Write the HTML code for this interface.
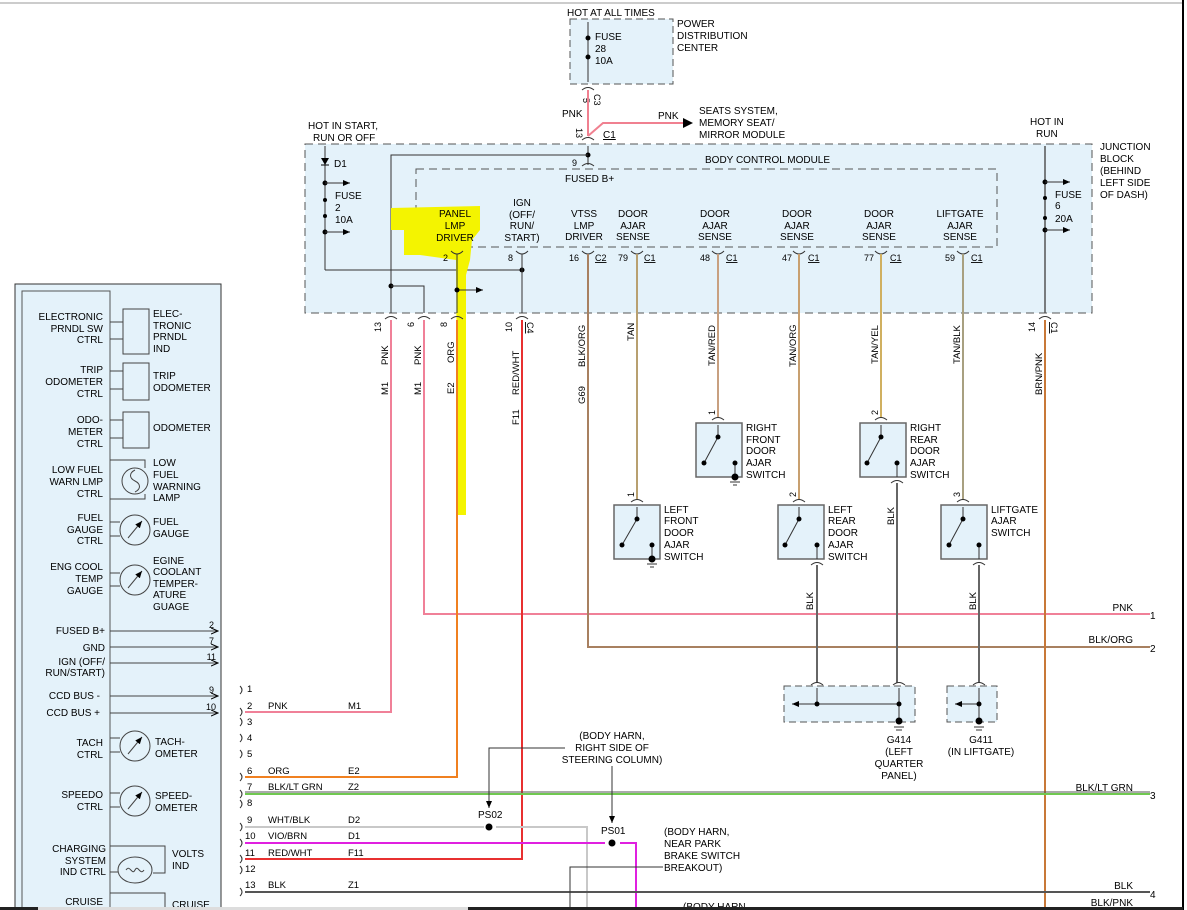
<!DOCTYPE html>
<html><head><meta charset="utf-8"><style>
html,body{margin:0;padding:0;background:#fff;}
svg{display:block;font-family:"Liberation Sans",sans-serif;font-size:10px;}
</style></head><body>
<svg width="1187" height="910" viewBox="0 0 1187 910" xmlns="http://www.w3.org/2000/svg">
<defs>
<marker id="ar" markerWidth="8" markerHeight="8" refX="7" refY="4" orient="auto" markerUnits="userSpaceOnUse"><path d="M0,1 L7,4 L0,7" fill="none" stroke="#000" stroke-width="1"/></marker>
<marker id="af" markerWidth="8" markerHeight="8" refX="7" refY="4" orient="auto" markerUnits="userSpaceOnUse"><path d="M0,1 L7,4 L0,7 Z" fill="#000"/></marker>
</defs>
<rect width="1187" height="910" fill="#fff"/>
<line x1="0" y1="3" x2="1182" y2="3" stroke="#ccc" stroke-width="2"/>
<line x1="1183" y1="0" x2="1183" y2="910" stroke="#000" stroke-width="2"/>

<!-- Power distribution -->
<rect x="570" y="19" width="103" height="65" fill="#e4f2fa" stroke="#555" stroke-dasharray="7,4"/>
<text x="567" y="16">HOT AT ALL TIMES</text>
<line x1="588" y1="22" x2="588" y2="82" stroke="#333"/>
<circle cx="588" cy="38" r="2.5"/><circle cx="588" cy="57" r="2.5"/>
<text x="595" y="40">FUSE</text><text x="595" y="52">28</text><text x="595" y="64">10A</text>
<text x="677" y="27">POWER</text><text x="677" y="39">DISTRIBUTION</text><text x="677" y="51">CENTER</text>
<path d="M582,90 q6,-5 12,0" fill="none" stroke="#333"/>
<text transform="translate(583,98) rotate(90)" font-size="9">5</text>
<text transform="translate(594,94) rotate(90)" font-size="9">C3</text>
<line x1="588" y1="90" x2="588" y2="136" stroke="#f08090" stroke-width="2"/>
<polyline points="588,136 603,123 683,123" fill="none" stroke="#f08090" stroke-width="2"/>
<path d="M683,118 L693,123 L683,128 Z" fill="#000"/>
<text x="562" y="117">PNK</text><text x="658" y="119">PNK</text>
<text x="699" y="114">SEATS SYSTEM,</text><text x="699" y="126">MEMORY SEAT/</text><text x="699" y="138">MIRROR MODULE</text>
<text transform="translate(576,128) rotate(90)" font-size="9">13</text>
<text x="603" y="138" text-decoration="underline">C1</text>
<path d="M582,140 q6,-5 12,0" fill="none" stroke="#333"/>

<!-- Junction block -->
<rect x="305" y="144" width="787" height="169" fill="#e4f2fa" stroke="#555" stroke-dasharray="8,5"/>
<rect x="416" y="169" width="581" height="78" fill="#e4f2fa" stroke="#555" stroke-dasharray="8,5"/>
<text x="705" y="163">BODY CONTROL MODULE</text>
<text x="565" y="182">FUSED B+</text>
<text x="572" y="166" font-size="9">9</text>
<path d="M582,166 q6,-5 12,0" fill="none" stroke="#333"/>
<line x1="588" y1="146" x2="588" y2="165" stroke="#333"/>
<circle cx="588" cy="155" r="2.5"/>
<polyline points="588,155 391,155 391,313" fill="none" stroke="#333"/>
<circle cx="391" cy="286" r="2.5"/>
<polyline points="391,286 424,286 424,313" fill="none" stroke="#333"/>
<text x="308" y="129">HOT IN START,</text><text x="313" y="141">RUN OR OFF</text>
<line x1="325" y1="146" x2="325" y2="270" stroke="#333"/>
<path d="M321,158 L329,158 L325,165 Z" fill="#000"/><line x1="321" y1="165" x2="329" y2="165" stroke="#000"/>
<text x="334" y="167">D1</text>
<circle cx="325" cy="183" r="2.5"/><line x1="325" y1="183" x2="350" y2="183" stroke="#333" marker-end="url(#af)"/>
<circle cx="325" cy="200" r="2"/><circle cx="325" cy="216" r="2"/>
<circle cx="325" cy="232" r="2.5"/><line x1="325" y1="232" x2="350" y2="232" stroke="#333" marker-end="url(#af)"/>
<text x="335" y="199">FUSE</text><text x="335" y="211">2</text><text x="335" y="223">10A</text>
<polyline points="325,270 522,270" fill="none" stroke="#333"/>
<circle cx="522" cy="270" r="2.5"/>

<polygon points="391,208 480,206 480,230 472,240 470,260 466,275 466,515 458,515 456,260 420,255 404,255 404,230 391,230" fill="#f4f400"/>

<g text-anchor="middle">
<text x="455" y="217">PANEL</text><text x="455" y="229">LMP</text><text x="455" y="241">DRIVER</text>
<text x="522" y="206">IGN</text><text x="522" y="218">(OFF/</text><text x="522" y="229">RUN/</text><text x="522" y="241">START)</text>
<text x="584" y="217">VTSS</text><text x="584" y="229">LMP</text><text x="584" y="240">DRIVER</text>
<text x="633" y="217">DOOR</text><text x="633" y="229">AJAR</text><text x="633" y="240">SENSE</text>
<text x="715" y="217">DOOR</text><text x="715" y="229">AJAR</text><text x="715" y="240">SENSE</text>
<text x="797" y="217">DOOR</text><text x="797" y="229">AJAR</text><text x="797" y="240">SENSE</text>
<text x="879" y="217">DOOR</text><text x="879" y="229">AJAR</text><text x="879" y="240">SENSE</text>
<text x="960" y="217">LIFTGATE</text><text x="960" y="229">AJAR</text><text x="960" y="240">SENSE</text>
</g>
<g font-size="9">
<text x="443" y="261">2</text><text x="508" y="261">8</text>
<text x="569" y="261">16</text><text x="595" y="261" text-decoration="underline">C2</text>
<text x="618" y="261">79</text><text x="644" y="261" text-decoration="underline">C1</text>
<text x="700" y="261">48</text><text x="726" y="261" text-decoration="underline">C1</text>
<text x="782" y="261">47</text><text x="808" y="261" text-decoration="underline">C1</text>
<text x="864" y="261">77</text><text x="890" y="261" text-decoration="underline">C1</text>
<text x="945" y="261">59</text><text x="971" y="261" text-decoration="underline">C1</text>
</g>
<g fill="none" stroke="#333">
<path d="M451,251 q6,6 12,0"/><path d="M516,251 q6,6 12,0"/><path d="M582,251 q6,6 12,0"/><path d="M631,251 q6,6 12,0"/><path d="M712,251 q6,6 12,0"/><path d="M793,251 q6,6 12,0"/><path d="M875,251 q6,6 12,0"/><path d="M957,251 q6,6 12,0"/>
<line x1="457" y1="254" x2="457" y2="313"/><line x1="522" y1="254" x2="522" y2="313"/>
<line x1="457" y1="290" x2="483" y2="290" marker-end="url(#af)"/>
</g>
<circle cx="457" cy="290" r="2.5"/>
<!-- hot in run -->
<text x="1030" y="125">HOT IN</text><text x="1036" y="137">RUN</text>
<line x1="1045" y1="146" x2="1045" y2="313" stroke="#555" stroke-width="1.5"/>
<circle cx="1045" cy="182" r="2.5"/><line x1="1045" y1="182" x2="1070" y2="182" stroke="#333" marker-end="url(#af)"/>
<circle cx="1045" cy="198" r="2"/><circle cx="1045" cy="218" r="2"/>
<circle cx="1045" cy="230" r="2.5"/><line x1="1045" y1="230" x2="1070" y2="230" stroke="#333" marker-end="url(#af)"/>
<text x="1055" y="198">FUSE</text><text x="1055" y="209">6</text><text x="1055" y="222">20A</text>
<text x="1100" y="150">JUNCTION</text><text x="1100" y="162">BLOCK</text><text x="1100" y="174">(BEHIND</text><text x="1100" y="186">LEFT SIDE</text><text x="1100" y="198">OF DASH)</text>

<!-- connectors below JB -->
<g fill="none" stroke="#333">
<path d="M385,319 q6,-5 12,0"/><path d="M418,319 q6,-5 12,0"/><path d="M451,319 q6,-5 12,0"/><path d="M516,319 q6,-5 12,0"/><path d="M1039,319 q6,-5 12,0"/>
</g>
<g font-size="9">
<text transform="translate(381,322) rotate(-90)" text-anchor="end">13</text>
<text transform="translate(414,322) rotate(-90)" text-anchor="end">6</text>
<text transform="translate(447,322) rotate(-90)" text-anchor="end">8</text>
<text transform="translate(512,322) rotate(-90)" text-anchor="end">10</text>
<text transform="translate(527,322) rotate(90)" text-decoration="underline">C4</text>
<text transform="translate(1035,322) rotate(-90)" text-anchor="end">14</text>
<text transform="translate(1051,322) rotate(90)" text-decoration="underline">C1</text>
</g>

<!-- wires -->
<g fill="none" stroke-width="2">
<polyline points="391,320 391,712 245,712" stroke="#f08098"/>
<polyline points="424,320 424,614 1150,614" stroke="#f08098"/>
<polyline points="457,320 457,777 245,777" stroke="#f08020"/>
<polyline points="522,320 522,859 245,859" stroke="#e83030"/>
<polyline points="588,254 588,647 1150,647" stroke="#a88060"/>
<line x1="637" y1="254" x2="637" y2="500" stroke="#b8a070"/>
<line x1="718" y1="254" x2="718" y2="418" stroke="#c8a080"/>
<line x1="799" y1="254" x2="799" y2="500" stroke="#c8a070"/>
<line x1="881" y1="254" x2="881" y2="418" stroke="#d0b060"/>
<line x1="963" y1="254" x2="963" y2="500" stroke="#a8a080"/>
<line x1="1045" y1="320" x2="1045" y2="910" stroke="#c87838"/>
<line x1="245" y1="794" x2="1150" y2="794" stroke="#70c850"/>
<line x1="245" y1="792" x2="1150" y2="792" stroke="#555" stroke-width="1"/>
<polyline points="245,827 484,827" stroke="#c8c8c8"/>
<polyline points="496,827 587,827 587,910" stroke="#c8c8c8"/>
<polyline points="245,843 605,843" stroke="#e020e0"/>
<polyline points="620,843 636,843 636,910" stroke="#e020e0"/>
<line x1="245" y1="892" x2="1150" y2="892" stroke="#555"/>
<line x1="817" y1="565" x2="817" y2="683" stroke="#666"/>
<line x1="897" y1="483" x2="897" y2="683" stroke="#666"/>
<line x1="979" y1="565" x2="979" y2="683" stroke="#666"/>
</g>
<!-- wire labels vertical -->
<g font-size="9.5">
<text transform="translate(388,365) rotate(-90)">PNK</text><text transform="translate(388,395) rotate(-90)">M1</text>
<text transform="translate(421,365) rotate(-90)">PNK</text><text transform="translate(421,395) rotate(-90)">M1</text>
<text transform="translate(454,363) rotate(-90)">ORG</text><text transform="translate(454,394) rotate(-90)">E2</text>
<text transform="translate(519,395) rotate(-90)">RED/WHT</text><text transform="translate(519,425) rotate(-90)">F11</text>
<text transform="translate(585,367) rotate(-90)">BLK/ORG</text><text transform="translate(585,404) rotate(-90)">G69</text>
<text transform="translate(634,341) rotate(-90)">TAN</text>
<text transform="translate(715,366) rotate(-90)">TAN/RED</text>
<text transform="translate(796,367) rotate(-90)">TAN/ORG</text>
<text transform="translate(878,364) rotate(-90)">TAN/YEL</text>
<text transform="translate(960,364) rotate(-90)">TAN/BLK</text>
<text transform="translate(1042,395) rotate(-90)">BRN/PNK</text>
<text transform="translate(894,525) rotate(-90)">BLK</text>
<text transform="translate(813,610) rotate(-90)">BLK</text>
<text transform="translate(976,610) rotate(-90)">BLK</text>
</g>

<!-- switches -->
<g id="sw">
<rect x="696" y="423" width="46" height="54" fill="#e4f2fa" stroke="#666" stroke-width="1.5"/>
<rect x="614" y="505" width="46" height="54" fill="#e4f2fa" stroke="#666" stroke-width="1.5"/>
<rect x="778" y="505" width="46" height="54" fill="#e4f2fa" stroke="#666" stroke-width="1.5"/>
<rect x="860" y="423" width="46" height="54" fill="#e4f2fa" stroke="#666" stroke-width="1.5"/>
<rect x="941" y="505" width="46" height="54" fill="#e4f2fa" stroke="#666" stroke-width="1.5"/>
</g>
<g fill="none" stroke="#333">
<path d="M712,420 q6,-5 12,0"/><path d="M631,502 q6,-5 12,0"/><path d="M793,502 q6,-5 12,0"/><path d="M875,420 q6,-5 12,0"/><path d="M957,502 q6,-5 12,0"/>
<line x1="718" y1="425" x2="718" y2="437"/><line x1="718" y1="437" x2="704" y2="463"/>
<line x1="637" y1="507" x2="637" y2="519"/><line x1="637" y1="519" x2="622" y2="545"/>
<line x1="799" y1="507" x2="799" y2="519"/><line x1="799" y1="519" x2="785" y2="545"/>
<line x1="881" y1="425" x2="881" y2="437"/><line x1="881" y1="437" x2="867" y2="463"/>
<line x1="963" y1="507" x2="963" y2="519"/><line x1="963" y1="519" x2="949" y2="545"/>
<line x1="735" y1="463" x2="735" y2="477"/><line x1="652" y1="545" x2="652" y2="559"/>
<line x1="817" y1="545" x2="817" y2="559"/><line x1="897" y1="463" x2="897" y2="477"/><line x1="979" y1="545" x2="979" y2="559"/>
<path d="M811,565 q6,-5 12,0"/><path d="M891,483 q6,-5 12,0"/><path d="M973,565 q6,-5 12,0"/>
<line x1="730" y1="482" x2="740" y2="482"/><line x1="733" y1="485" x2="737" y2="485"/>
<line x1="647" y1="564" x2="657" y2="564"/><line x1="650" y1="567" x2="654" y2="567"/>
</g>
<g>
<circle cx="718" cy="437" r="2.5"/><circle cx="704" cy="463" r="2.5"/><circle cx="735" cy="463" r="2.5"/><circle cx="735" cy="477" r="3.5"/>
<circle cx="637" cy="519" r="2.5"/><circle cx="622" cy="545" r="2.5"/><circle cx="652" cy="545" r="2.5"/><circle cx="652" cy="559" r="3.5"/>
<circle cx="799" cy="519" r="2.5"/><circle cx="785" cy="545" r="2.5"/><circle cx="817" cy="545" r="2.5"/>
<circle cx="881" cy="437" r="2.5"/><circle cx="867" cy="463" r="2.5"/><circle cx="897" cy="463" r="2.5"/>
<circle cx="963" cy="519" r="2.5"/><circle cx="949" cy="545" r="2.5"/><circle cx="979" cy="545" r="2.5"/>
</g>
<g font-size="9">
<text transform="translate(715,415) rotate(-90)">1</text><text transform="translate(634,497) rotate(-90)">1</text>
<text transform="translate(796,497) rotate(-90)">2</text><text transform="translate(878,415) rotate(-90)">2</text>
<text transform="translate(960,497) rotate(-90)">3</text>
</g>
<text x="746" y="431">RIGHT</text><text x="746" y="443">FRONT</text><text x="746" y="454">DOOR</text><text x="746" y="466">AJAR</text><text x="746" y="478">SWITCH</text>
<text x="664" y="513">LEFT</text><text x="664" y="524">FRONT</text><text x="664" y="536">DOOR</text><text x="664" y="548">AJAR</text><text x="664" y="560">SWITCH</text>
<text x="828" y="513">LEFT</text><text x="828" y="524">REAR</text><text x="828" y="536">DOOR</text><text x="828" y="548">AJAR</text><text x="828" y="560">SWITCH</text>
<text x="910" y="431">RIGHT</text><text x="910" y="443">REAR</text><text x="910" y="454">DOOR</text><text x="910" y="466">AJAR</text><text x="910" y="478">SWITCH</text>
<text x="991" y="513">LIFTGATE</text><text x="991" y="524">AJAR</text><text x="991" y="536">SWITCH</text>

<!-- ground boxes -->
<rect x="784" y="686" width="131" height="36" fill="#e4f2fa" stroke="#555" stroke-dasharray="7,4"/>
<rect x="947" y="686" width="50" height="36" fill="#e4f2fa" stroke="#555" stroke-dasharray="7,4"/>
<g fill="none" stroke="#333">
<path d="M811,685 q6,-5 12,0"/><path d="M893,685 q6,-5 12,0"/><path d="M973,685 q6,-5 12,0"/>
<line x1="817" y1="688" x2="817" y2="704"/><line x1="899" y1="688" x2="899" y2="721"/><line x1="979" y1="688" x2="979" y2="721"/>
<line x1="899" y1="704" x2="792" y2="704" marker-end="url(#af)"/>
<line x1="979" y1="704" x2="955" y2="704" marker-end="url(#af)"/>
<line x1="894" y1="727" x2="904" y2="727"/><line x1="896" y1="730" x2="902" y2="730"/>
<line x1="974" y1="727" x2="984" y2="727"/><line x1="976" y1="730" x2="982" y2="730"/>
</g>
<circle cx="817" cy="704" r="2.5"/><circle cx="899" cy="704" r="2.5"/><circle cx="899" cy="721" r="3.5"/>
<circle cx="979" cy="704" r="2.5"/><circle cx="979" cy="721" r="3.5"/>
<g text-anchor="middle">
<text x="899" y="743">G414</text><text x="899" y="755">(LEFT</text><text x="899" y="767">QUARTER</text><text x="899" y="779">PANEL)</text>
<text x="981" y="743">G411</text><text x="981" y="755">(IN LIFTGATE)</text>
</g>

<!-- right labels -->
<g text-anchor="end">
<text x="1133" y="611">PNK</text><text x="1133" y="643">BLK/ORG</text><text x="1133" y="791">BLK/LT GRN</text>
<text x="1133" y="889">BLK</text><text x="1133" y="906">BLK/PNK</text>
</g>
<text x="1150" y="619">1</text><text x="1150" y="652">2</text><text x="1150" y="799">3</text><text x="1150" y="898">4</text>

<!-- left cluster panel -->
<rect x="15" y="284" width="206" height="630" fill="#e4f2fa" stroke="#333"/>
<rect x="22" y="291" width="88" height="620" fill="#e4f2fa" stroke="#555"/>
<g text-anchor="end">
<text x="103" y="320">ELECTRONIC</text><text x="103" y="332">PRNDL SW</text><text x="103" y="343">CTRL</text>
<text x="103" y="373">TRIP</text><text x="103" y="385">ODOMETER</text><text x="103" y="397">CTRL</text>
<text x="103" y="423">ODO-</text><text x="103" y="435">METER</text><text x="103" y="447">CTRL</text>
<text x="103" y="473">LOW FUEL</text><text x="103" y="485">WARN LMP</text><text x="103" y="497">CTRL</text>
<text x="103" y="521">FUEL</text><text x="103" y="533">GAUGE</text><text x="103" y="544">CTRL</text>
<text x="103" y="570">ENG COOL</text><text x="103" y="582">TEMP</text><text x="103" y="594">GAUGE</text>
<text x="105" y="634">FUSED B+</text><text x="105" y="651">GND</text><text x="105" y="665">IGN (OFF/</text><text x="105" y="676">RUN/START)</text>
<text x="100" y="699">CCD BUS -</text><text x="100" y="716">CCD BUS +</text>
<text x="103" y="746">TACH</text><text x="103" y="758">CTRL</text>
<text x="103" y="798">SPEEDO</text><text x="103" y="810">CTRL</text>
<text x="106" y="852">CHARGING</text><text x="106" y="864">SYSTEM</text><text x="106" y="875">IND CTRL</text>
<text x="103" y="905">CRUISE</text>
</g>
<g fill="#e4f2fa" stroke="#444">
<rect x="123" y="309" width="26" height="45"/><rect x="123" y="363" width="26" height="37"/><rect x="123" y="412" width="26" height="36"/>
</g>
<g fill="none" stroke="#444">
<path d="M110,322 H123 M110,339 H123 M110,371 H123 M110,389 H123 M110,420 H123 M110,438 H123"/>
<path d="M110,460 H145 V468 M110,499 H145 V494"/>
<circle cx="135" cy="481" r="13"/><path d="M135,470 c-6,3 -6,8 0,11 c6,3 6,8 0,11"/>
<circle cx="135" cy="530" r="15"/><line x1="128" y1="538" x2="142" y2="521" marker-end="url(#af)"/>
<path d="M110,522 H120 M110,536 H120"/>
<circle cx="135" cy="580" r="15"/><line x1="128" y1="588" x2="142" y2="571" marker-end="url(#af)"/>
<path d="M110,573 H120 M110,586 H120"/>
<circle cx="135" cy="746" r="15"/><line x1="128" y1="754" x2="142" y2="737" marker-end="url(#af)"/>
<path d="M110,738 H120 M110,752 H120"/>
<circle cx="135" cy="801" r="15"/><line x1="128" y1="809" x2="142" y2="792" marker-end="url(#af)"/>
<path d="M110,793 H120 M110,807 H120"/>
<ellipse cx="135" cy="870" rx="17" ry="13"/><path d="M126,870 c4,-6 6,6 9,0 c3,-6 5,6 9,0"/>
<path d="M110,846 H165 V873 H153 M110,872 H118 M110,893 H165 V910"/>
<line x1="110" y1="631" x2="218" y2="631" marker-end="url(#ar)"/>
<line x1="110" y1="647" x2="218" y2="647" marker-end="url(#ar)"/>
<line x1="110" y1="663" x2="218" y2="663" marker-end="url(#ar)"/>
<line x1="110" y1="696" x2="218" y2="696" marker-end="url(#ar)"/>
<line x1="110" y1="713" x2="218" y2="713" marker-end="url(#ar)"/>
</g>
<text x="153" y="317">ELEC-</text><text x="153" y="329">TRONIC</text><text x="153" y="340">PRNDL</text><text x="153" y="352">IND</text>
<text x="153" y="379">TRIP</text><text x="153" y="391">ODOMETER</text>
<text x="153" y="431">ODOMETER</text>
<text x="153" y="466">LOW</text><text x="153" y="478">FUEL</text><text x="153" y="490">WARNING</text><text x="153" y="501">LAMP</text>
<text x="153" y="525">FUEL</text><text x="153" y="537">GAUGE</text>
<text x="153" y="564">EGINE</text><text x="153" y="575">COOLANT</text><text x="153" y="587">TEMPER-</text><text x="153" y="598">ATURE</text><text x="153" y="610">GUAGE</text>
<text x="155" y="745">TACH-</text><text x="155" y="757">OMETER</text>
<text x="155" y="799">SPEED-</text><text x="155" y="811">OMETER</text>
<text x="172" y="857">VOLTS</text><text x="172" y="869">IND</text>
<text x="172" y="908">CRUISE</text>
<g font-size="9" text-anchor="end">
<text x="214" y="628">2</text><text x="214" y="644">7</text><text x="216" y="660">11</text><text x="214" y="693">9</text><text x="216" y="710">10</text>
</g>

<!-- connector list -->
<g fill="none" stroke="#333">
<path d="M240,686 q4,4 0,8"/><path d="M240,708 q4,4 0,8"/><path d="M240,718 q4,4 0,8"/><path d="M240,734 q4,4 0,8"/><path d="M240,750 q4,4 0,8"/><path d="M240,773 q4,4 0,8"/><path d="M240,790 q4,4 0,8"/><path d="M240,800 q4,4 0,8"/><path d="M240,823 q4,4 0,8"/><path d="M240,839 q4,4 0,8"/><path d="M240,855 q4,4 0,8"/><path d="M240,866 q4,4 0,8"/><path d="M240,888 q4,4 0,8"/>
</g>
<g font-size="9.5">
<text x="247" y="692">1</text><text x="247" y="709">2</text><text x="247" y="725">3</text><text x="247" y="741">4</text><text x="247" y="757">5</text><text x="247" y="774">6</text><text x="247" y="790">7</text><text x="247" y="806">8</text><text x="247" y="823">9</text><text x="245" y="839">10</text><text x="245" y="856">11</text><text x="245" y="872">12</text><text x="245" y="888">13</text>
<text x="268" y="709">PNK</text><text x="348" y="709">M1</text>
<text x="268" y="774">ORG</text><text x="348" y="774">E2</text>
<text x="268" y="790">BLK/LT GRN</text><text x="348" y="790">Z2</text>
<text x="268" y="823">WHT/BLK</text><text x="348" y="823">D2</text>
<text x="268" y="839">VIO/BRN</text><text x="348" y="839">D1</text>
<text x="268" y="856">RED/WHT</text><text x="348" y="856">F11</text>
<text x="268" y="888">BLK</text><text x="348" y="888">Z1</text>
</g>
<!-- splices -->
<polyline points="565,748 489,748 489,808" fill="none" stroke="#333" marker-end="url(#af)"/>
<line x1="612" y1="766" x2="612" y2="823" stroke="#333" marker-end="url(#af)"/>
<circle cx="489" cy="827" r="3.5"/><circle cx="612" cy="843" r="3.5"/>
<text x="478" y="818">PS02</text><text x="601" y="834">PS01</text>
<g text-anchor="middle"><text x="612" y="739">(BODY HARN,</text><text x="612" y="751">RIGHT SIDE OF</text><text x="612" y="763">STEERING COLUMN)</text></g>
<polyline points="663,867 570,867 570,910" fill="none" stroke="#333"/>
<text x="664" y="835">(BODY HARN,</text><text x="664" y="847">NEAR PARK</text><text x="664" y="859">BRAKE SWITCH</text><text x="664" y="871">BREAKOUT)</text>
<text x="683" y="910">(BODY HARN</text>
<rect x="0" y="907" width="38" height="3" fill="#222"/>
<rect x="468" y="907" width="715" height="3" fill="#222"/>
<rect x="38" y="907" width="430" height="3" fill="#ddd"/>
</svg>
</body></html>
